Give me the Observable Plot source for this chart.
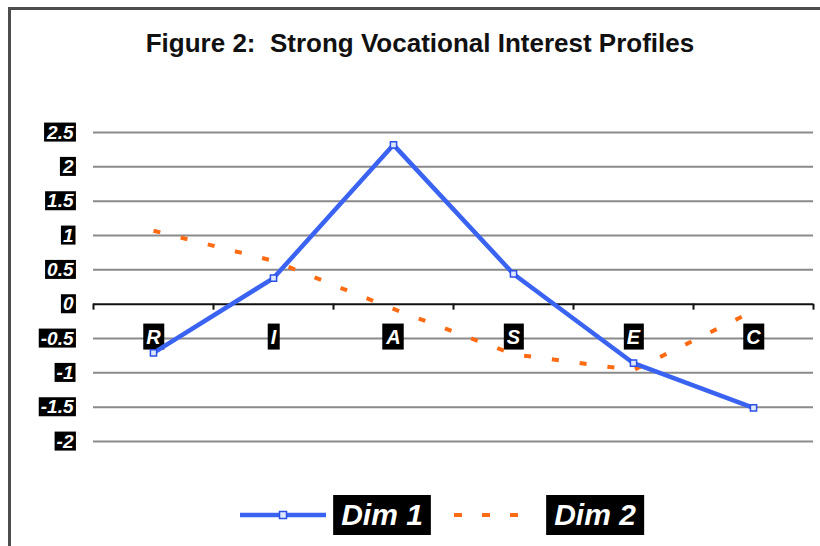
<!DOCTYPE html>
<html><head><meta charset="utf-8">
<script src="https://cdn.jsdelivr.net/npm/d3@7"></script>
<script src="https://cdn.jsdelivr.net/npm/@observablehq/plot@0.6"></script>
<style>
html,body{margin:0;padding:0;background:#fff;}
body{position:relative;width:820px;height:546px;overflow:hidden;}
#frame{position:absolute;left:8px;top:7px;width:830px;height:560px;border-top:3px solid #4d4d4d;border-left:3px solid #4d4d4d;pointer-events:none;}
#chart svg{display:block;}
</style></head><body>
<div id="chart"></div>
<div id="frame"></div>
<script>
const categories = ["R", "I", "A", "S", "E", "C"];
const dim1 = [-0.71, 0.38, 2.32, 0.44, -0.86, -1.51];
const dim2 = [1.07, 0.63, -0.07, -0.73, -0.96, -0.10];
const yTicks = [2.5, 2, 1.5, 1, 0.5, 0, -0.5, -1, -1.5, -2];
const seriesNames = ["Dim 1", "Dim 2"];
const title = "Figure 2:\u00a0 Strong Vocational Interest Profiles";

const blue = "#3a63f2";
const orange = "#ff6a13";
const font = '"Liberation Sans", Arial, sans-serif';

const rows1 = categories.map((c, i) => ({cat: c, v: dim1[i]}));
const rows2 = categories.map((c, i) => ({cat: c, v: dim2[i]}));

const plot = Plot.plot({
  width: 820, height: 546,
  marginLeft: 93, marginRight: 7, marginTop: 132, marginBottom: 105,
  style: {fontFamily: font, background: "white", overflow: "visible"},
  x: {type: "point", domain: categories, padding: 0.5, axis: null},
  y: {domain: [-2, 2.5], axis: null},
  marks: [
    Plot.ruleY(yTicks.filter(d => d !== 0), {stroke: "#8a8a8a", strokeWidth: 2}),
    Plot.ruleY([0], {stroke: "#111", strokeWidth: 2}),
    Plot.ruleX(categories, {x: d => d, y1: 0, y2: 0, dx: -60, insetBottom: -6, stroke: "#111", strokeWidth: 2}),
    Plot.ruleX(categories.slice(-1), {x: d => d, y1: 0, y2: 0, dx: 60, insetBottom: -6, stroke: "#111", strokeWidth: 2}),
    Plot.text(yTicks, {y: d => d, frameAnchor: "left", text: d => String(d), textAnchor: "end", dx: -20,
      fill: "white", fontSize: 19, fontWeight: "bold", fontStyle: "italic"}),
    Plot.text(categories, {x: d => d, y: 0, dy: 33, text: d => d,
      fill: "white", fontSize: 20, fontWeight: "bold", fontStyle: "italic"}),
    Plot.line(rows2, {x: "cat", y: "v", stroke: orange, strokeWidth: 4, strokeDasharray: "7,21", strokeLinecap: "butt"}),
    Plot.line(rows1, {x: "cat", y: "v", stroke: blue, strokeWidth: 4.5}),
    Plot.dot(rows1, {x: "cat", y: "v", symbol: "square", r: 3.5, fill: "#dfe7ff", stroke: "#2b50e8", strokeWidth: 1.5})
  ]
});

document.getElementById("chart").append(plot);

const svgNS = "http://www.w3.org/2000/svg";
function boxText(t, padX, padY) {
  const b = t.getBBox();
  const r = document.createElementNS(svgNS, "rect");
  r.setAttribute("x", b.x - padX);
  r.setAttribute("y", b.y - padY);
  r.setAttribute("width", b.width + 2 * padX);
  r.setAttribute("height", b.height + 2 * padY);
  r.setAttribute("fill", "black");
  const tr = t.getAttribute("transform");
  if (tr) r.setAttribute("transform", tr);
  t.parentNode.insertBefore(r, t);
}
// put black boxes behind each white tick label
const yLabelSet = new Set(yTicks.map(String));
const xLabelSet = new Set(categories);
plot.querySelectorAll("g").forEach(g => {
  if (g.getAttribute("fill") !== "white") return;
  const texts = Array.from(g.querySelectorAll("text"));
  if (!texts.length) return;
  const isY = texts.every(t => yLabelSet.has(t.textContent));
  const isX = texts.every(t => xLabelSet.has(t.textContent));
  texts.forEach(t => boxText(t, isX && !isY ? 3 : 2, isX && !isY ? 2 : -1));
});

const svg = d3.select(plot);
// title
svg.append("text").attr("x", 420).attr("y", 52).attr("text-anchor", "middle")
  .attr("font-family", font).attr("font-size", 26).attr("font-weight", "bold")
  .attr("fill", "#111").text(title);

// legend
const lg = svg.append("g").attr("font-family", font);
lg.append("line").attr("x1", 240).attr("x2", 326).attr("y1", 515).attr("y2", 515)
  .attr("stroke", blue).attr("stroke-width", 4.5);
lg.append("rect").attr("x", 279.5).attr("y", 511.5).attr("width", 7).attr("height", 7)
  .attr("fill", "#dfe7ff").attr("stroke", "#2b50e8").attr("stroke-width", 1.5);
lg.append("line").attr("x1", 454).attr("x2", 522).attr("y1", 515).attr("y2", 515)
  .attr("stroke", orange).attr("stroke-width", 4).attr("stroke-dasharray", "8,20");
[[seriesNames[0], 382], [seriesNames[1], 595]].forEach(([name, cx]) => {
  const t = lg.append("text").attr("x", cx).attr("y", 525).attr("text-anchor", "middle")
    .attr("font-size", 30).attr("font-weight", "bold").attr("font-style", "italic")
    .attr("fill", "white").text(name);
  const b = t.node().getBBox();
  lg.insert("rect", () => t.node()).attr("x", b.x - 8).attr("y", 495)
    .attr("width", b.width + 16).attr("height", 40).attr("fill", "black");
});
</script>
</body></html>
